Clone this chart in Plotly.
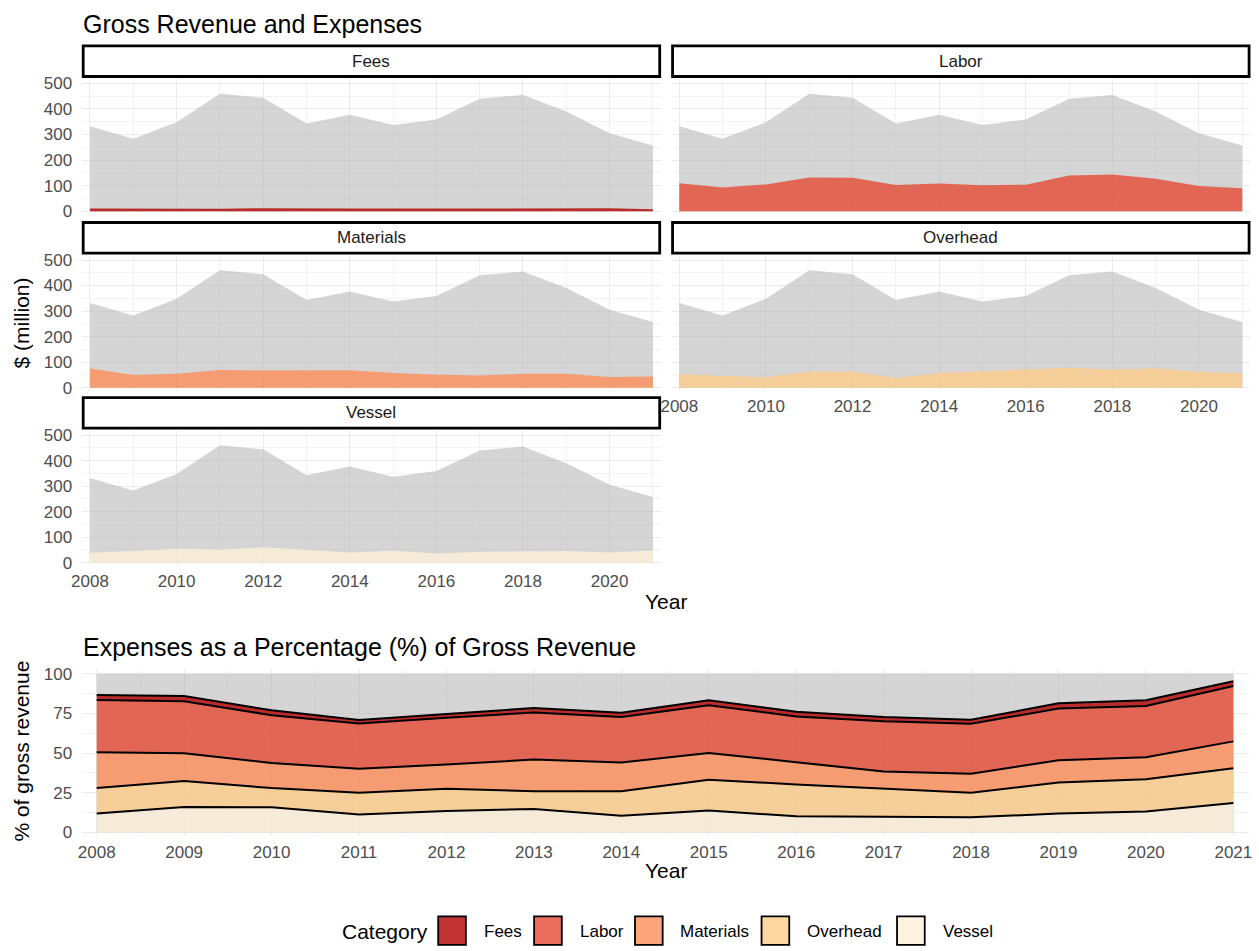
import plotly.graph_objects as go

# ---- data ($ million) ----
years = list(range(2008, 2022))
gross_revenue = [332, 283, 348, 460, 444, 343, 377, 337, 359, 440, 455, 390, 305, 257]
fees = [10.3, 9.3, 10.8, 9.7, 11.1, 9.3, 10.2, 10.4, 10.4, 11.4, 11.4, 12.9, 11.0, 7.5]
labor = [109.6, 92.8, 104.7, 131.6, 130.5, 101.9, 107.8, 101.4, 103.4, 139.5, 143.3, 127.1, 98.5, 89.7]
materials = [74.7, 49.5, 55.0, 69.0, 67.5, 68.6, 68.6, 57.0, 50.3, 47.5, 54.1, 54.6, 42.1, 43.4]
overhead = [53.5, 46.1, 42.1, 63.5, 62.2, 38.1, 57.7, 65.4, 72.2, 78.3, 70.5, 76.4, 62.2, 56.3]
vessel = [39.5, 45.6, 55.3, 52.0, 60.4, 50.8, 40.0, 46.5, 36.6, 43.1, 43.7, 46.4, 40.3, 47.8]

categories = ["Fees", "Labor", "Materials", "Overhead", "Vessel"]
series = {"Fees": fees, "Labor": labor, "Materials": materials,
          "Overhead": overhead, "Vessel": vessel}
# OrRd palette drawn at 80% opacity
palette = {"Fees": (179, 0, 0), "Labor": (227, 74, 51), "Materials": (252, 141, 89),
           "Overhead": (253, 204, 138), "Vessel": (254, 240, 217)}

W, H = 1259, 951
FONT = "Liberation Sans, Arial, Helvetica, sans-serif"
GREY_FILL = "rgba(179,179,179,0.55)"
GRID = "#EBEBEB"
MINOR = "#F3F3F3"
TICK_COL = "#4D4D4D"
TICK_SIZE = 17
AXIS_TITLE_SIZE = 21
TITLE_SIZE = 25


def fx(px):
    return px / W


def fy(py):
    return 1 - py / H


def rgba(c, a=0.8):
    return "rgba(%d,%d,%d,%s)" % (c[0], c[1], c[2], a)


fig = go.Figure()

# facet grid: two columns, three rows (px)
cols = {0: (72, 657), 1: (668, 1253)}
row_top = {0: 41.5, 1: 220.5, 2: 398}
STRIP_H = 31
PANEL_H = 135.5
facets = [("Fees", 0, 0), ("Labor", 1, 0), ("Materials", 0, 1),
          ("Overhead", 1, 1), ("Vessel", 0, 2)]

shapes = []
annotations = []
layout_axes = {}

for i, (cat, c, r) in enumerate(facets, start=1):
    x0, x1 = cols[c]
    st = row_top[r]
    strip_bot = st + STRIP_H
    p_top = strip_bot + 3
    p_bot = p_top + PANEL_H
    xa = "x" if i == 1 else "x%d" % i
    ya = "y" if i == 1 else "y%d" % i

    fig.add_trace(go.Scatter(x=years, y=gross_revenue, mode="lines", fill="tozeroy",
                             fillcolor=GREY_FILL, line=dict(width=0), showlegend=False,
                             hoverinfo="skip", xaxis=xa, yaxis=ya))
    fig.add_trace(go.Scatter(x=years, y=series[cat], mode="lines", fill="tozeroy",
                             fillcolor=rgba(palette[cat]), line=dict(width=0),
                             showlegend=False, name=cat, xaxis=xa, yaxis=ya))

    show_x = cat in ("Vessel", "Overhead")
    show_y = c == 0
    layout_axes["xaxis" if i == 1 else "xaxis%d" % i] = dict(
        domain=[fx(x0), fx(x1)], anchor=ya, range=[2007.82, 2021.18],
        tick0=2008, dtick=2, showticklabels=show_x, showgrid=True, gridcolor=GRID,
        gridwidth=1.1, zeroline=False, showline=False, ticks="",
        ticklabelstandoff=4,
        tickfont=dict(family=FONT, size=TICK_SIZE, color=TICK_COL),
        minor=dict(dtick=1, tick0=2009, showgrid=True, gridcolor=MINOR, gridwidth=0.6))
    layout_axes["yaxis" if i == 1 else "yaxis%d" % i] = dict(
        domain=[fy(p_bot), fy(p_top)], anchor=xa, range=[-7.8, 515.6],
        tick0=0, dtick=100, showticklabels=show_y, showgrid=True, gridcolor=GRID,
        gridwidth=1.1, zeroline=False, showline=False, ticks="",
        ticklabelstandoff=9,
        tickfont=dict(family=FONT, size=TICK_SIZE, color=TICK_COL),
        minor=dict(dtick=50, tick0=50, showgrid=True, gridcolor=MINOR, gridwidth=0.6))

    # strip label box
    shapes.append(dict(type="rect", xref="paper", yref="paper",
                       x0=fx(x0 + 1), x1=fx(x1 - 1), y0=fy(strip_bot), y1=fy(st),
                       line=dict(color="black", width=2.8), fillcolor="white"))
    annotations.append(dict(text=cat, xref="paper", yref="paper",
                            x=fx((x0 + x1) / 2), y=fy((st + strip_bot) / 2),
                            showarrow=False, xanchor="center", yanchor="middle",
                            font=dict(family=FONT, size=TICK_SIZE, color="#1A1A1A")))

# ---- percentage of gross revenue, stacked ----
pct = {cat: [v / g * 100 for v, g in zip(series[cat], gross_revenue)] for cat in categories}
fig.add_trace(go.Scatter(x=years, y=[100] * len(years), mode="lines", fill="tozeroy",
                         fillcolor=GREY_FILL, line=dict(width=0), showlegend=False,
                         hoverinfo="skip", xaxis="x6", yaxis="y6"))
for cat in ["Vessel", "Overhead", "Materials", "Labor", "Fees"]:
    fig.add_trace(go.Scatter(x=years, y=pct[cat], mode="lines", stackgroup="pct",
                             fillcolor=rgba(palette[cat]), line=dict(color="black", width=2),
                             name=cat, showlegend=False, xaxis="x6", yaxis="y6"))

layout_axes["xaxis6"] = dict(
    domain=[fx(72), fx(1252)], anchor="y6", range=[2007.834, 2021.18],
    tick0=2008, dtick=1, showgrid=True, gridcolor=GRID, gridwidth=1.1,
    zeroline=False, showline=False, ticks="", ticklabelstandoff=4,
    tickfont=dict(family=FONT, size=TICK_SIZE, color=TICK_COL),
    minor=dict(dtick=0.5, tick0=2008.5, showgrid=True, gridcolor=MINOR, gridwidth=0.6))
layout_axes["yaxis6"] = dict(
    domain=[fy(843), fy(673)], anchor="x6", range=[-2.5, 103.1],
    tick0=0, dtick=25, showgrid=True, gridcolor=GRID, gridwidth=1.1,
    zeroline=False, showline=False, ticks="", ticklabelstandoff=9,
    tickfont=dict(family=FONT, size=TICK_SIZE, color=TICK_COL),
    minor=dict(dtick=12.5, tick0=12.5, showgrid=True, gridcolor=MINOR, gridwidth=0.6))


# ---- titles and axis titles ----
def text(t, x, y, size, xanchor="left", angle=0, color="black"):
    annotations.append(dict(text=t, xref="paper", yref="paper", x=fx(x), y=fy(y),
                            showarrow=False, xanchor=xanchor, yanchor="middle",
                            textangle=angle, font=dict(family=FONT, size=size, color=color)))


text("Gross Revenue and Expenses", 71, 19, TITLE_SIZE)
text("Expenses as a Percentage (%) of Gross Revenue", 71, 651, TITLE_SIZE)
text("Year", 662, 605, AXIS_TITLE_SIZE, xanchor="center")
text("Year", 662, 877, AXIS_TITLE_SIZE, xanchor="center")
text("$ (million)", 11, 322, AXIS_TITLE_SIZE, xanchor="center", angle=-90)
text("% of gross revenue", 11, 756, AXIS_TITLE_SIZE, xanchor="center", angle=-90)

# ---- legend ----
text("Category", 333, 939, AXIS_TITLE_SIZE)
legend_label_x = {"Fees": 476, "Labor": 573, "Materials": 675, "Overhead": 803, "Vessel": 940}
for cat in categories:
    lx = legend_label_x[cat]
    shapes.append(dict(type="rect", xref="paper", yref="paper",
                       x0=fx(lx - 44), x1=fx(lx - 16), y0=fy(953), y1=fy(924),
                       line=dict(color="black", width=1.8), fillcolor=rgba(palette[cat])))
    text(cat, lx, 939, TICK_SIZE)

fig.update_layout(
    width=W, height=H, margin=dict(l=0, r=0, t=0, b=0),
    paper_bgcolor="white", plot_bgcolor="white",
    showlegend=False, shapes=shapes, annotations=annotations,
    font=dict(family=FONT), **layout_axes)

fig.write_html("out.html")
